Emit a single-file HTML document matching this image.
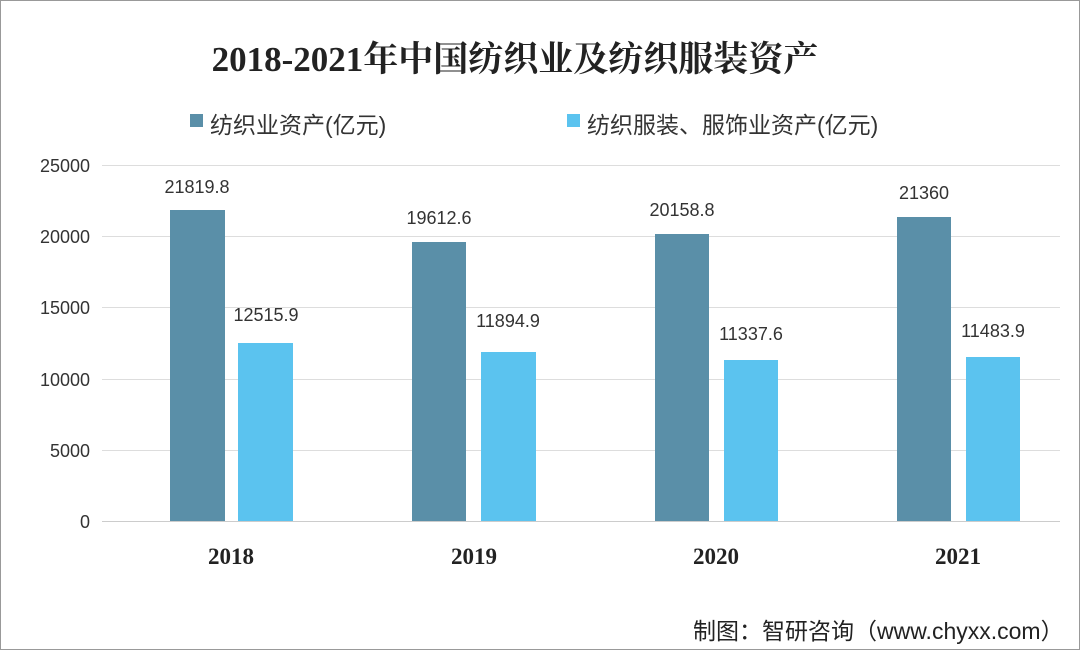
<!DOCTYPE html>
<html><head><meta charset="utf-8"><style>
body{margin:0;width:1080px;height:650px;background:#fff;overflow:hidden;position:relative;font-family:"Liberation Sans","Noto Sans CJK SC",sans-serif;}
.t{position:absolute;white-space:nowrap}
</style></head><body>
<div style="position:absolute;left:0;top:0;width:1078px;height:648px;border:1px solid #999"></div>
<div class="t" style="left:0;width:1030px;text-align:center;top:32px;font-size:35px;font-weight:bold;color:#222;font-family:'Liberation Serif','Noto Serif CJK SC',serif">2018-2021年中国纺织业及纺织服装资产</div>
<div style="position:absolute;left:190px;top:114px;width:13px;height:13px;background:#5a8fa8"></div>
<div class="t" style="left:210px;top:106px;font-size:23px;color:#333">纺织业资产(亿元)</div>
<div style="position:absolute;left:567px;top:114px;width:13px;height:13px;background:#5bc3ef"></div>
<div class="t" style="left:587px;top:106px;font-size:23px;color:#333">纺织服装、服饰业资产(亿元)</div>
<svg width="1080" height="650" style="position:absolute;left:0;top:0" font-family="Liberation Sans, sans-serif">
<g stroke="#ddd" stroke-width="1">
<line x1="102" x2="1060" y1="165.5" y2="165.5"/><line x1="102" x2="1060" y1="236.5" y2="236.5"/>
<line x1="102" x2="1060" y1="307.5" y2="307.5"/><line x1="102" x2="1060" y1="379.5" y2="379.5"/>
<line x1="102" x2="1060" y1="450.5" y2="450.5"/></g>
<line x1="102" x2="1060" y1="521.5" y2="521.5" stroke="#ccc"/>
<g font-size="18" fill="#333" text-anchor="end">
<text x="90" y="172">25000</text><text x="90" y="243">20000</text><text x="90" y="314">15000</text>
<text x="90" y="386">10000</text><text x="90" y="457">5000</text><text x="90" y="528">0</text></g>
<g fill="#5a8fa8">
<rect x="170" y="210" width="55" height="311"/><rect x="412" y="242" width="54" height="279"/>
<rect x="655" y="234" width="54" height="287"/><rect x="897" y="217" width="54" height="304"/></g>
<g fill="#5bc3ef">
<rect x="238" y="343" width="55" height="178"/><rect x="481" y="352" width="55" height="169"/>
<rect x="724" y="360" width="54" height="161"/><rect x="966" y="357" width="54" height="164"/></g>
<g font-size="18" fill="#333" text-anchor="middle">
<text x="197" y="193">21819.8</text><text x="266" y="321">12515.9</text>
<text x="439" y="224">19612.6</text><text x="508" y="327">11894.9</text>
<text x="682" y="216">20158.8</text><text x="751" y="340">11337.6</text>
<text x="924" y="199">21360</text><text x="993" y="337">11483.9</text></g>
<g font-size="23" font-weight="bold" fill="#222" text-anchor="middle" font-family="Liberation Serif, serif">
<text x="231" y="564">2018</text><text x="474" y="564">2019</text><text x="716" y="564">2020</text><text x="958" y="564">2021</text></g>
</svg>
<div class="t" style="left:693px;top:612px;font-size:23px;color:#222">制图：智研咨询（www.chyxx.com）</div>
</body></html>
